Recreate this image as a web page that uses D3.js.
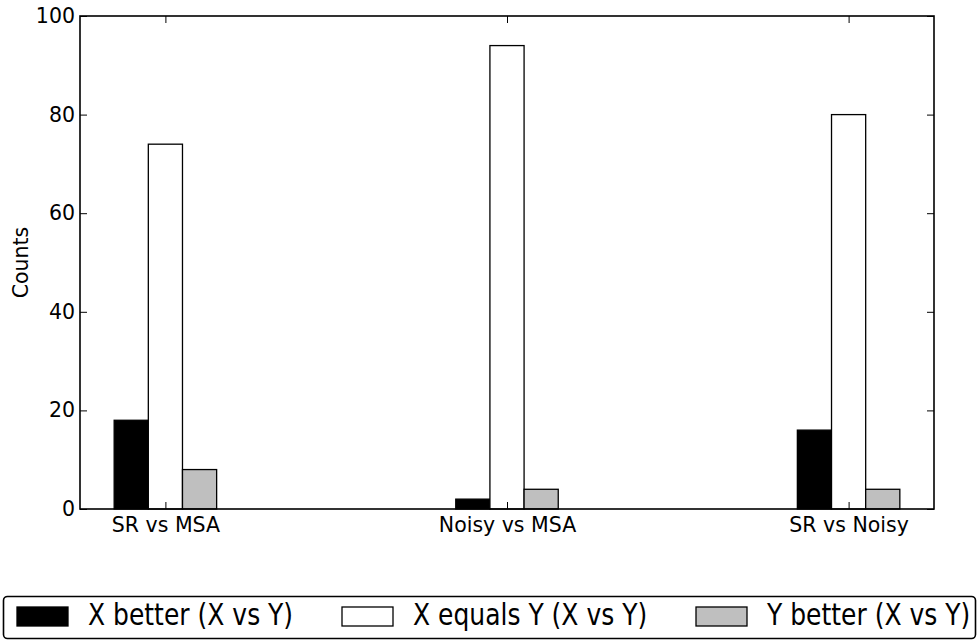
<!DOCTYPE html>
<meta charset="utf-8">
<style>
  body { margin: 0; background: #fff; }
  text { font-family: "DejaVu Sans", sans-serif; fill: #000; }
</style>
<body>
<div id="chart"></div>
<script src="https://d3js.org/d3.v7.min.js"></script>
<script>

// Data
var categories = ["SR vs MSA", "Noisy vs MSA", "SR vs Noisy"];
var seriesNames = ["X better (X vs Y)", "X equals Y (X vs Y)", "Y better (X vs Y)"];
var xBetter = [18, 2, 16];
var xEquals = [74, 94, 80];
var yBetter = [8, 4, 4];
var yTicks = [0, 20, 40, 60, 80, 100];

var series = [xBetter, xEquals, yBetter];
var colors = ["#000000", "#ffffff", "#bfbfbf"];
var barWidth = 0.1;

var W = 979, H = 642;
var margin = {top: 16, right: 45, bottom: 133, left: 80};
var width = W - margin.left - margin.right,
    height = H - margin.top - margin.bottom;

var svg = d3.select("#chart").append("svg")
    .attr("width", W)
    .attr("height", H);

var g = svg.append("g")
    .attr("transform", "translate(" + margin.left + "," + margin.top + ")");

// Scales (matplotlib-style numeric x positions)
var x = d3.scaleLinear().domain([-0.1, 2.4]).range([0, width]);
var y = d3.scaleLinear().domain([0, 100]).range([height, 0]);

// Bars
series.forEach(function(vals, s) {
  g.selectAll(".bar" + s)
    .data(vals)
    .enter().append("rect")
      .attr("x", function(d, i) { return x(i + s * barWidth); })
      .attr("width", x(barWidth) - x(0))
      .attr("y", function(d) { return y(d); })
      .attr("height", function(d) { return y(0) - y(d); })
      .attr("fill", colors[s])
      .attr("stroke", "#000")
      .attr("stroke-width", 1.3);
});

// Axes with inward ticks
var tickPos = categories.map(function(c, i) { return i + 1.5 * barWidth; });

var yAxis = g.append("g")
    .call(d3.axisLeft(y).tickValues(yTicks).tickSize(-7).tickPadding(5));
yAxis.selectAll("text").style("font-size", "20.5px");

var yAxisR = g.append("g")
    .attr("transform", "translate(" + width + ",0)")
    .call(d3.axisRight(y).tickValues(yTicks).tickSize(-7).tickFormat(""));

var xAxis = g.append("g")
    .attr("transform", "translate(0," + height + ")")
    .call(d3.axisBottom(x).tickValues(tickPos).tickSize(-7).tickPadding(8)
      .tickFormat(function(d, i) { return categories[i]; }));
xAxis.selectAll("text").style("font-size", "20.5px");

var xAxisT = g.append("g")
    .call(d3.axisTop(x).tickValues(tickPos).tickSize(-7).tickFormat(""));

[yAxis, yAxisR, xAxis, xAxisT].forEach(function(a) {
  a.select(".domain").remove();
  a.selectAll("line").attr("stroke", "#000").attr("stroke-width", 1);
});

// Frame
g.append("rect")
    .attr("width", width)
    .attr("height", height)
    .attr("fill", "none")
    .attr("stroke", "#000")
    .attr("stroke-width", 1.6);

// Y label
svg.append("text")
    .attr("transform", "translate(28," + (margin.top + height / 2) + ") rotate(-90)")
    .attr("text-anchor", "middle")
    .style("font-size", "20.5px")
    .text("Counts");

// Legend
var legend = svg.append("g");
legend.append("rect")
    .attr("x", 3.5).attr("y", 596.5)
    .attr("width", 972).attr("height", 42)
    .attr("rx", 4)
    .attr("fill", "#fff")
    .attr("stroke", "#000")
    .attr("stroke-width", 1.6);

var legendX = [17, 342, 696];
seriesNames.forEach(function(name, s) {
  legend.append("rect")
      .attr("x", legendX[s]).attr("y", 607)
      .attr("width", 51).attr("height", 19)
      .attr("fill", colors[s])
      .attr("stroke", "#000")
      .attr("stroke-width", 1.3);
  legend.append("text")
      .attr("transform", "translate(" + (legendX[s] + 71) + ",625) scale(1,1.2)")
      .style("font-size", "25px")
      .text(name);
});

</script>
</body>
